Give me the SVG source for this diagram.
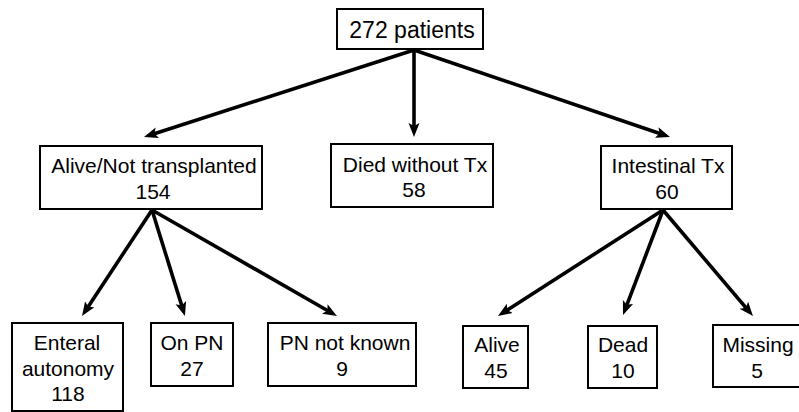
<svg xmlns="http://www.w3.org/2000/svg" width="799" height="412" viewBox="0 0 799 412">
<style>
.box{fill:#fff;stroke:#000;stroke-width:2}
.t{font-family:"Liberation Sans",Arial,sans-serif;font-size:21px;fill:#000;text-anchor:middle}
.tt{font-size:23px}
.c{stroke:#000;stroke-width:3.6;fill:none;marker-end:url(#ah)}
</style>
<defs>
<marker id="ah" markerUnits="userSpaceOnUse" viewBox="0 -6 16 12" markerWidth="16" markerHeight="12" refX="4" refY="0" orient="auto">
<path d="M0,-5.5 L14,0 L0,5.5 L3,0 z" fill="#000"/>
</marker>
</defs>
<rect width="799" height="412" fill="#fff"/>
<g id="connectors">
<line class="c" x1="414" y1="50" x2="153.5" y2="134"/>
<line class="c" x1="414" y1="50" x2="414" y2="127"/>
<line class="c" x1="414" y1="50" x2="660.5" y2="133.8"/>
<line class="c" x1="152" y1="210" x2="87.5" y2="307.7"/>
<line class="c" x1="152" y1="210" x2="182" y2="306.5"/>
<line class="c" x1="152" y1="210" x2="328.3" y2="311"/>
<line class="c" x1="663" y1="210" x2="506.4" y2="310.6"/>
<line class="c" x1="663" y1="210" x2="626.6" y2="305.7"/>
<line class="c" x1="663" y1="210" x2="746.5" y2="308.4"/>
</g>
<g id="n-total">
<rect class="box" x="337" y="9" width="146" height="40"/>
<text class="t tt" x="412" y="38">272 patients</text>
</g>
<g id="n-alive">
<rect class="box" x="40" y="146" width="222" height="63"/>
<text class="t" x="154" y="173">Alive/Not transplanted</text>
<text class="t" x="153" y="199">154</text>
</g>
<g id="n-died">
<rect class="box" x="331" y="144" width="162" height="63"/>
<text class="t" x="415" y="172">Died without Tx</text>
<text class="t" x="414" y="197">58</text>
</g>
<g id="n-itx">
<rect class="box" x="601" y="146" width="131" height="63"/>
<text class="t" x="668" y="173">Intestinal Tx</text>
<text class="t" x="667" y="199">60</text>
</g>
<g id="n-enteral">
<rect class="box" x="12" y="323" width="111" height="88"/>
<text class="t" x="67" y="350">Enteral</text>
<text class="t" x="68" y="376">autonomy</text>
<text class="t" x="68" y="401">118</text>
</g>
<g id="n-onpn">
<rect class="box" x="151" y="323" width="82" height="63"/>
<text class="t" x="192" y="350">On PN</text>
<text class="t" x="192" y="376">27</text>
</g>
<g id="n-pnunk">
<rect class="box" x="268" y="323" width="148" height="63"/>
<text class="t" x="345" y="350">PN not known</text>
<text class="t" x="342" y="376">9</text>
</g>
<g id="n-alive2">
<rect class="box" x="463" y="326" width="65" height="62"/>
<text class="t" x="497" y="352">Alive</text>
<text class="t" x="496" y="378">45</text>
</g>
<g id="n-dead">
<rect class="box" x="588" y="326" width="69" height="62"/>
<text class="t" x="623" y="352">Dead</text>
<text class="t" x="623" y="378">10</text>
</g>
<g id="n-missing">
<rect class="box" x="713" y="325" width="90" height="62"/>
<text class="t" x="758" y="352">Missing</text>
<text class="t" x="757" y="378">5</text>
</g>
</svg>
